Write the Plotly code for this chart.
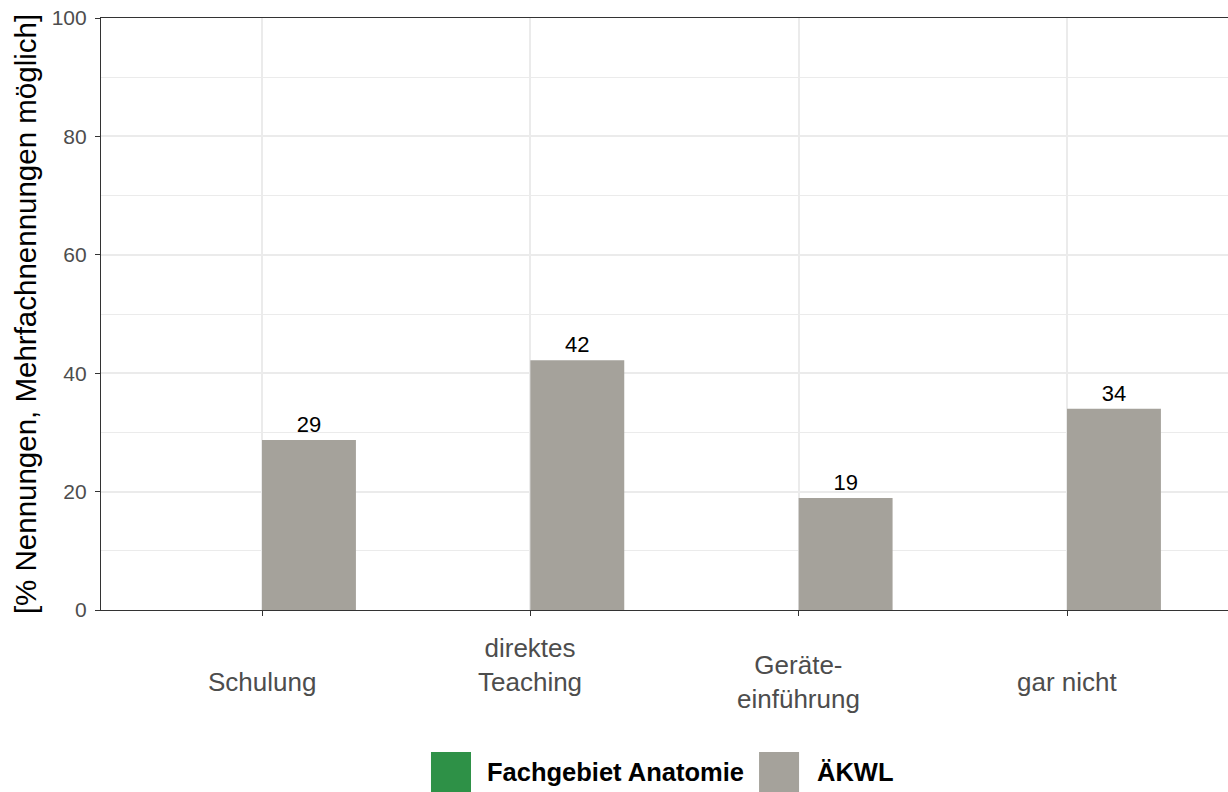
"""Kategorie-Balkendiagramm: Nennungen je Lernform (Fachgebiet Anatomie vs. ÄKWL)."""

import plotly.graph_objects as go

categories = ["Schulung", "direktes Teaching", "Geräte-einführung", "gar nicht"]
tick_labels = ["Schulung", "direktes<br>Teaching<br> ", "Geräte-<br>einführung", "gar nicht"]
series_names = ["Fachgebiet Anatomie", "ÄKWL"]
anatomie = [None, None, None, None]
aekwl = [28.7, 42.2, 18.9, 34.0]
y_ticks = [0, 20, 40, 60, 80, 100]

colors = ["#2e9147", "#a5a29b"]
FONT = "Liberation Sans, Arial, sans-serif"

fig = go.Figure()
for name, vals, col in zip(series_names, [anatomie, aekwl], colors):
    fig.add_bar(
        name=name, x=categories, y=vals, marker_color=col, marker_line_width=0,
        texttemplate="%{y:.0f}", textposition="outside", constraintext="none",
        textfont=dict(family=FONT, size=22, color="black"), cliponaxis=False,
        showlegend=False,
    )

fig.update_layout(
    template="none", width=1228, height=792,
    paper_bgcolor="white", plot_bgcolor="white",
    barmode="group", bargap=0.3, bargroupgap=0,
    margin=dict(l=101, r=0, t=18, b=182),
    font=dict(family=FONT, color="#4d4d4d"),
)
fig.update_xaxes(
    range=[-0.6, 3.6], showticklabels=False, ticks="outside", ticklen=5,
    tickcolor="#333333", tickwidth=1.2,
    showgrid=True, gridcolor="#ebebeb", gridwidth=1.6,
    showline=True, linecolor="#333333", linewidth=1.2, mirror=True, zeroline=False,
)
fig.update_yaxes(
    range=[0, 100], tickvals=y_ticks, ticks="outside", ticklen=5,
    tickcolor="#333333", tickwidth=1.2, ticklabelstandoff=4, ticklabeloverflow="allow",
    tickfont=dict(family=FONT, size=21, color="#4d4d4d"),
    showgrid=True, gridcolor="#ebebeb", gridwidth=1.6,
    minor=dict(dtick=10, tick0=0, showgrid=True, gridcolor="#ebebeb", gridwidth=0.8),
    showline=True, linecolor="#333333", linewidth=1.2, zeroline=False,
    title=dict(text="[% Nennungen, Mehrfachnennungen möglich]", standoff=6,
               font=dict(family=FONT, size=29.5, color="black")),
)

# Achsenbeschriftungen der Kategorien (mehrzeilig, vertikal zentriert)
for cat, lab in zip(categories, tick_labels):
    fig.add_annotation(x=cat, y=-0.1216, xref="x", yref="paper", text=lab,
                       showarrow=False, yanchor="middle", xanchor="center",
                       font=dict(family=FONT, size=26, color="#4d4d4d"))

# Legende mit großen Farbfeldern
legend_pos = [(0.2928, 0.3407), (0.5839, 0.6335)]
for (x0, xt), name, col in zip(legend_pos, series_names, colors):
    fig.add_shape(type="rect", xref="paper", yref="paper", x0=x0, x1=x0 + 0.0355,
                  y0=-0.2399, y1=-0.3074, fillcolor=col, line_width=0)
    fig.add_annotation(x=xt, y=-0.274, xref="paper", yref="paper", text=f"<b>{name}</b>",
                       showarrow=False, xanchor="left", yanchor="middle",
                       font=dict(family=FONT, size=25.5, color="black"))

# Body-Rand entfernen, damit die Figur das Fenster genau füllt
fig.write_html("out.html", config={"displayModeBar": False},
               post_script="document.body.style.margin='0';")
